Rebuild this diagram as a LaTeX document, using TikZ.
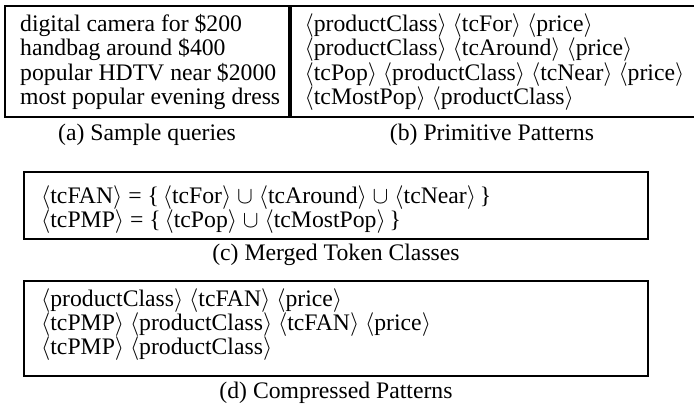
\documentclass[tikz,border=0pt]{standalone}
\usepackage{mathptmx}
\usepackage{fontspec}
\setmainfont{Liberation Serif}
\newcommand{\tok}[1]{$\langle$#1$\rangle$}

\begin{document}
\begin{tikzpicture}[x=1pt,y=-1pt,
    box/.style={draw,line width=1.2pt,inner sep=0pt,outer sep=0pt,anchor=north west},
    row/.style={anchor=base west,inner sep=0pt,text height=15pt,text depth=4pt},
    caption/.style={anchor=base,inner sep=0pt,text height=15pt,text depth=4pt},
    font=\fontsize{23.7}{24.3}\selectfont]
    \useasboundingbox (0,0) rectangle (694,405);
    \clip (0,0) rectangle (694,405);

    % (a) sample queries
    \node[box,minimum width=284pt,minimum height=111pt] (qbox) at (5,6) {};
    \foreach \i/\txt in {0/digital camera for \$200,1/handbag around \$400,2/popular HDTV near \$2000,3/most popular evening dress} {
        \node[row] (q\i) at (20,{31.7+24.2*\i}) {\txt};
    }
    \node[caption] (qcap) at (147,140) {(a) Sample queries};

    % (b) primitive patterns
    \node[box,minimum width=405pt,minimum height=111pt] (pbox) at (291,6) {};
    \foreach \i/\txt in {0/\tok{productClass} \tok{tcFor} \tok{price},
                         1/\tok{productClass} \tok{tcAround} \tok{price},
                         2/\tok{tcPop} \tok{productClass} \tok{tcNear} \tok{price},
                         3/\tok{tcMostPop} \tok{productClass}} {
        \node[row] (p\i) at (304.5,{31.7+24.2*\i}) {\txt};
    }
    \node[caption] (pcap) at (492,140) {(b) Primitive Patterns};

    % (c) merged token classes
    \node[box,minimum width=624pt,minimum height=67pt] (mbox) at (24,172) {};
    \node[row] (m0) at (41,203) {\tok{tcFAN} = \{\,\tok{tcFor} $\cup$ \tok{tcAround} $\cup$ \tok{tcNear}\,\}};
    \node[row] (m1) at (41,227) {\tok{tcPMP} = \{\,\tok{tcPop} $\cup$ \tok{tcMostPop}\,\}};
    \node[caption] (mcap) at (336,260) {(c) Merged Token Classes};

    % (d) compressed patterns
    \node[box,minimum width=624pt,minimum height=95pt] (cbox) at (24,281) {};
    \foreach \i/\txt in {0/\tok{productClass} \tok{tcFAN} \tok{price},
                         1/\tok{tcPMP} \tok{productClass} \tok{tcFAN} \tok{price},
                         2/\tok{tcPMP} \tok{productClass}} {
        \node[row] (c\i) at (41,{306+24*\i}) {\txt};
    }
    \node[caption] (ccap) at (336,398) {(d) Compressed Patterns};
\end{tikzpicture}
\end{document}
